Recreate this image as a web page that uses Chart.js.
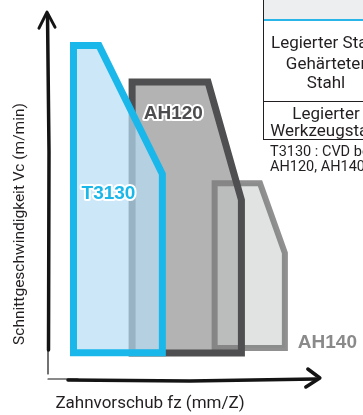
<!DOCTYPE html>
<html>
<head>
<meta charset="utf-8">
<script src="https://cdn.jsdelivr.net/npm/chart.js@4.4.1/dist/chart.umd.min.js"></script>
<style>
  html, body { margin: 0; padding: 0; background: #fff; }
  body { width: 363px; height: 415px; overflow: hidden; position: relative; font-family: Roboto, "Liberation Sans", sans-serif; color: #231f20; }
  #wrap { position: absolute; left: 0; top: 0; width: 363px; height: 415px; }
  .tbl { position: absolute; left: 263px; top: -2px; width: 124px; height: 142px; border: 1px solid #231f20; box-sizing: border-box; }
  .hdr { position: absolute; left: 0; top: 0; width: 100%; height: 20px; background: #eceef0; border-bottom: 2px solid #29b5e8; }
  .sep { position: absolute; left: 0; top: 102px; width: 100%; height: 0; border-top: 1px solid #231f20; }
  .cell { position: absolute; left: 0; width: 124px; text-align: center; font-size: 17px; line-height: 20px; white-space: nowrap; }
  .note { position: absolute; left: 270px; font-size: 14.5px; line-height: 16px; white-space: nowrap; color: #231f20; }
</style>
</head>
<body>
<div id="wrap"><canvas id="c"></canvas></div>
<div class="tbl">
  <div class="hdr"></div>
  <div class="cell" style="top:33px">Legierter Stahl</div>
  <div class="cell" style="top:54px">Gehärteter</div>
  <div class="cell" style="top:73px">Stahl</div>
  <div class="sep"></div>
  <div class="cell" style="top:104px">Legierter</div>
  <div class="cell" style="top:121px">Werkzeugstahl</div>
</div>
<div class="note" style="top:144px">T3130 : CVD beschichtet</div>
<div class="note" style="top:159px">AH120, AH140 : PVD beschichtet</div>
<script>
// Polygon vertices (feed fz in relative units, cutting speed Vc in relative units)
const t3130X = [8.1, 8.1, 16.2, 36.3, 36.3, 8.1];
const t3130Y = [7.2, 88.0, 88.0, 54.2, 7.2, 7.2];
const ah120X = [26.7, 26.7, 50.8, 61.4, 61.4, 26.7];
const ah120Y = [7.1, 78.4, 78.4, 47.4, 7.1, 7.1];
const ah140X = [52.9, 52.9, 67.3, 75.2, 75.2, 52.9];
const ah140Y = [8.4, 51.8, 51.8, 33.4, 8.4, 8.4];
const gradeNames = ['T3130', 'AH120', 'AH140'];
const labelX = [19.2, 39.8, 88.7];
const labelY = [49.1, 70.1, 9.9];
const axisTitleX = 'Zahnvorschub fz (mm/Z)';
const axisTitleY = 'Schnittgeschwindigkeit Vc (m/min)';
const axisEnd = { x: 86.3, y: 96.8 };

const pts = (xs, ys) => xs.map((x, i) => ({ x: x, y: ys[i] }));

const decor = {
  id: 'decor',
  afterDatasetsDraw(chart) {
    const ctx = chart.ctx;
    const xs = chart.scales.x, ys = chart.scales.y;
    const ox = xs.getPixelForValue(0), oy = ys.getPixelForValue(0);
    const ty = ys.getPixelForValue(axisEnd.y);
    const rx = xs.getPixelForValue(axisEnd.x);
    ctx.save();
    ctx.strokeStyle = '#141414';
    ctx.lineCap = 'round';
    ctx.lineJoin = 'round';
    // y axis
    ctx.lineWidth = 1.2;
    ctx.beginPath(); ctx.moveTo(ox, oy - 6); ctx.lineTo(ox, oy - 40); ctx.stroke();
    ctx.lineWidth = 3.5;
    ctx.beginPath(); ctx.moveTo(ox + 0.5, oy - 30); ctx.lineTo(ox + 1, ys.getPixelForValue(60)); ctx.lineTo(ox - 0.5, ty + 2); ctx.stroke();
    ctx.lineWidth = 3;
    ctx.beginPath(); ctx.moveTo(ox - 9, ty + 16); ctx.lineTo(ox - 1, ty); ctx.lineTo(ox + 7, ty + 15); ctx.stroke();
    // x axis
    ctx.lineWidth = 1.2;
    ctx.beginPath(); ctx.moveTo(ox, oy - 1); ctx.lineTo(ox + 30, oy - 1); ctx.stroke();
    ctx.lineWidth = 3.5;
    ctx.beginPath(); ctx.moveTo(ox + 20, oy); ctx.lineTo(xs.getPixelForValue(45), oy + 1); ctx.lineTo(rx - 4, oy - 1); ctx.stroke();
    ctx.lineWidth = 3.5;
    ctx.beginPath(); ctx.moveTo(rx - 12, oy - 11); ctx.lineTo(rx, oy - 2); ctx.lineTo(rx - 14, oy + 7); ctx.stroke();
    // axis titles
    ctx.fillStyle = '#231f20';
    ctx.font = '17px Roboto';
    ctx.textAlign = 'center';
    ctx.textBaseline = 'middle';
    ctx.fillText(axisTitleX, 150, 404);
    ctx.save();
    ctx.font = '15.5px Roboto';
    ctx.translate(20, 224);
    ctx.rotate(-Math.PI / 2);
    ctx.fillText(axisTitleY, 0, 0);
    ctx.restore();
    // grade labels
    const colors = ['#1ab7ea', '#4d4d4f', '#8a8a8a'];
    ctx.font = 'bold 19px "Liberation Sans"';
    gradeNames.forEach((n, i) => {
      const px = xs.getPixelForValue(labelX[i]), py = ys.getPixelForValue(labelY[i]);
      if (i < 2) {
        ctx.lineWidth = 4; ctx.strokeStyle = '#ffffff'; ctx.lineJoin = 'round';
        ctx.strokeText(n, px, py);
      }
      ctx.fillStyle = colors[i];
      ctx.fillText(n, px, py);
    });
    ctx.restore();
  }
};

const common = { showLine: true, pointRadius: 0, pointHoverRadius: 0, tension: 0, borderJoinStyle: 'miter', borderCapStyle: 'square', clip: false };

new Chart(document.getElementById('c'), {
  type: 'scatter',
  data: {
    datasets: [
      Object.assign({ label: 'T3130', data: pts(t3130X, t3130Y), borderColor: '#1ab7ea', borderWidth: 7, backgroundColor: 'rgba(182,222,245,0.7)', fill: 'shape', order: 0 }, common),
      Object.assign({ label: 'AH120 outline', data: pts(ah120X, ah120Y), borderColor: '#4f4f51', borderWidth: 7, fill: false, order: 1 }, common),
      Object.assign({ label: 'AH140', data: pts(ah140X, ah140Y), borderColor: 'rgba(125,125,125,0.85)', borderWidth: 6, backgroundColor: 'rgba(196,198,198,0.5)', fill: 'shape', order: 2 }, common),
      Object.assign({ label: 'AH120', data: pts(ah120X, ah120Y), borderWidth: 0, borderColor: 'rgba(0,0,0,0)', backgroundColor: '#b3b3b3', fill: 'shape', order: 3 }, common)
    ]
  },
  options: {
    responsive: true,
    maintainAspectRatio: false,
    animation: false,
    events: [],
    layout: { padding: { left: 48, right: 0, top: 0, bottom: 35 } },
    scales: {
      x: { type: 'linear', min: 0, max: 100, display: false },
      y: { type: 'linear', min: 0, max: 100, display: false }
    },
    plugins: { legend: { display: false }, tooltip: { enabled: false } }
  },
  plugins: [decor]
});
</script>
</body>
</html>
